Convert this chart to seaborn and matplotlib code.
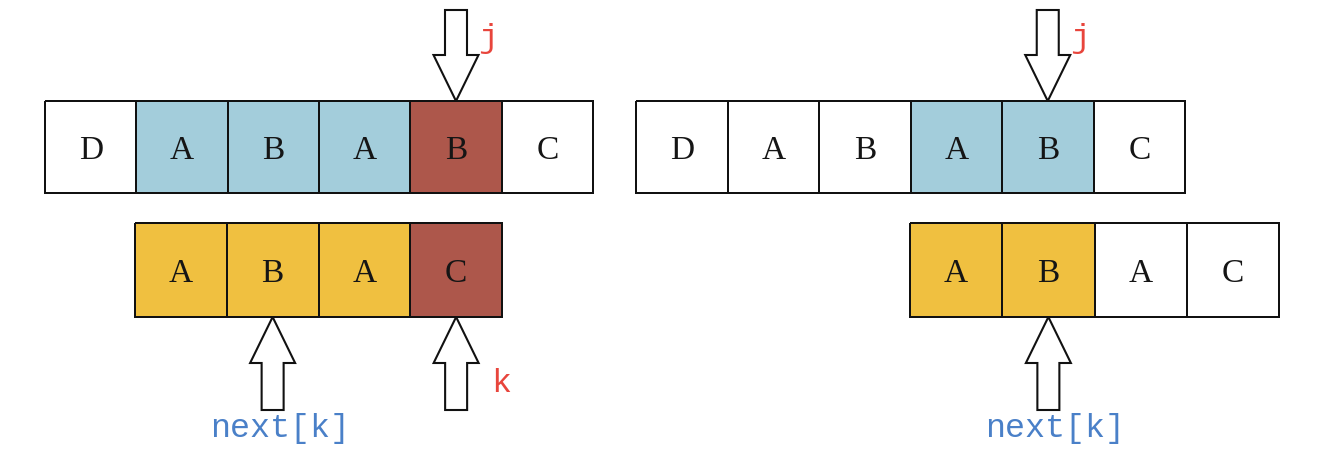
import numpy as np
import matplotlib
matplotlib.use("Agg")
import matplotlib.pyplot as plt
from matplotlib.colors import ListedColormap
from matplotlib.patches import Polygon
import seaborn as sns

sns.set_theme(style="white")

# string / pattern rows (letters + cell state: 0 plain, 1 matched, 2 mismatch, 3 prefix)
text_letters = ["D", "A", "B", "A", "B", "C"]
left_text_state = [0, 1, 1, 1, 2, 0]
right_text_state = [0, 0, 0, 1, 1, 0]

pattern_letters = ["A", "B", "A", "C"]
left_pattern_state = [3, 3, 3, 2]
right_pattern_state = [3, 3, 0, 0]

# pointer cell indices
j_index = 4
k_index = 3
next_k_index = 1

state_colors = ["#ffffff", "#a3cddb", "#ad574b", "#f0c040"]
cmap = ListedColormap(state_colors)

W, H = 1317, 474
fig = plt.figure(figsize=(W / 100, H / 100), dpi=100)

# row boxes in pixels: left, top, width, height
boxes = {
    "tl": (45, 101, 548, 92),
    "bl": (135, 223, 367, 94),
    "tr": (636, 101, 549, 92),
    "br": (910, 223, 369, 94),
}


def draw_row(key, letters, states):
    l, t, w, h = boxes[key]
    ax = fig.add_axes([l / W, (H - t - h) / H, w / W, h / H])
    sns.heatmap(np.array([states]), ax=ax, cmap=cmap, vmin=-0.5, vmax=3.5,
                annot=np.array([letters]), fmt="", cbar=False,
                linewidths=1.3, linecolor="#111111",
                annot_kws={"fontsize": 24, "color": "#151515",
                           "family": "Liberation Serif"})
    for coll in ax.collections:
        coll.set_clip_on(False)
    for t_ in ax.texts:
        t_.set_y(t_.get_position()[1] + 0.04)
    ax.set_xticks([])
    ax.set_yticks([])
    return ax


draw_row("tl", text_letters, left_text_state)
draw_row("bl", pattern_letters, left_pattern_state)
draw_row("tr", text_letters, right_text_state)
draw_row("br", pattern_letters, right_pattern_state)

# overlay in pixel coordinates for arrows and labels
ov = fig.add_axes([0, 0, 1, 1], zorder=5)
ov.set_xlim(0, W)
ov.set_ylim(H, 0)
ov.axis("off")
ov.patch.set_alpha(0)


def cell_center(key, idx, n):
    l, t, w, h = boxes[key]
    return l + (idx + 0.5) * w / n


def arrow(x, tip, base, down=True):
    sw, hw, hl = 11, 22.5, 46
    s = 1 if down else -1
    pts = [(x, tip), (x - hw, tip - s * hl), (x - sw, tip - s * hl),
           (x - sw, base), (x + sw, base), (x + sw, tip - s * hl),
           (x + hw, tip - s * hl)]
    ov.add_patch(Polygon(pts, closed=True, facecolor="white",
                         edgecolor="#111111", linewidth=1.5))


red = "#e8453c"
blue = "#4a80c8"
lab = {"family": "Liberation Mono", "fontsize": 24}

# left panel
xj = cell_center("tl", j_index, len(text_letters))
arrow(xj, 101, 10, down=True)
ov.text(xj + 32, 38, "j", color=red, ha="center", va="center", **lab)
xk = cell_center("bl", k_index, len(pattern_letters))
arrow(xk, 317, 410, down=False)
ov.text(xk + 45, 383, "k", color=red, ha="center", va="center", **lab)
xn = cell_center("bl", next_k_index, len(pattern_letters))
arrow(xn, 317, 410, down=False)
ov.text(xn + 7, 428, "next[k]", color=blue, ha="center", va="center", **lab)

# right panel
xj2 = cell_center("tr", j_index, len(text_letters))
arrow(xj2, 101, 10, down=True)
ov.text(xj2 + 32, 38, "j", color=red, ha="center", va="center", **lab)
xn2 = cell_center("br", next_k_index, len(pattern_letters))
arrow(xn2, 317, 410, down=False)
ov.text(xn2 + 7, 428, "next[k]", color=blue, ha="center", va="center", **lab)

fig.savefig("out.png", dpi=100, facecolor="white")
